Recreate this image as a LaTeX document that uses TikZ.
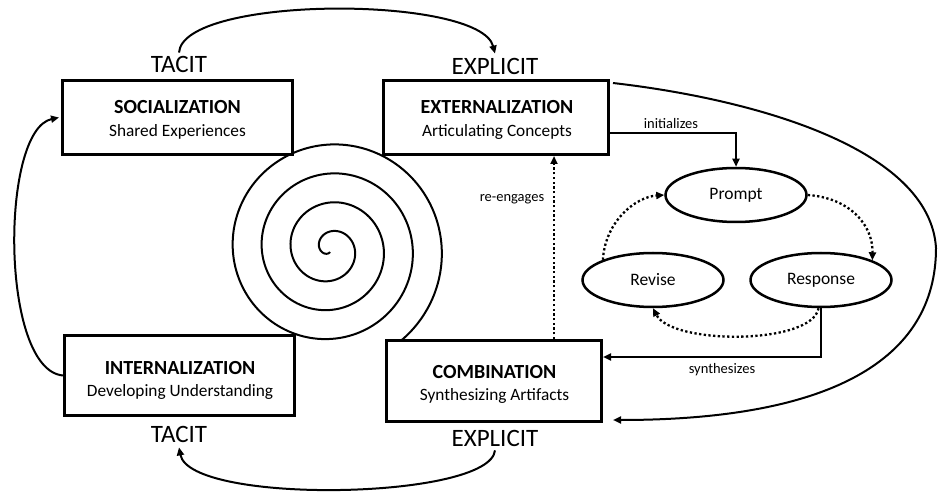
\documentclass[tikz,border=0pt]{standalone}
\usepackage{fontspec}
\setmainfont{Carlito}
\usetikzlibrary{arrows.meta,shapes.geometric}
\begin{document}
\begin{tikzpicture}[x=1pt,y=-1pt,
  kbox/.style={draw, line width=3pt, fill=white, inner sep=0pt},
  ttl/.style={font=\fontsize{20}{24}\selectfont\bfseries, anchor=base, inner sep=0pt},
  subt/.style={font=\fontsize{17.3}{20}\selectfont, anchor=base, inner sep=0pt},
  bigl/.style={font=\fontsize{25}{30}\selectfont, anchor=base, inner sep=0pt},
  smalll/.style={font=\fontsize{14.5}{17}\selectfont, anchor=base, inner sep=0pt},
  ell/.style={draw, ellipse, line width=2.5pt, minimum width=141pt, minimum height=54pt, inner sep=0pt, font=\fontsize{17.5}{20}\selectfont},
  conn/.style={line width=2pt},
  arr/.style={-{Triangle[length=8pt,width=7pt]}},
  dotline/.style={line width=2.3pt, dash pattern=on 2.3pt off 2.4pt},
]
\useasboundingbox (0,0) rectangle (939,494);
\fill[white] (0,0) rectangle (939,494);

% spiral
\draw[line width=2pt] plot[domain=90:1500, samples=500, smooth]
  ({330+(3+0.0805556*(\x-90))*cos(\x)}, {249+(3+0.0805556*(\x-90))*sin(\x)});

% boxes
\node[kbox, minimum width=230pt, minimum height=74pt] (soc) at (177.5,117.5) {};
\node[kbox, minimum width=225pt, minimum height=74pt] (ext) at (496,117.5) {};
\node[kbox, minimum width=230pt, minimum height=80pt] (int) at (179.5,375.5) {};
\node[kbox, minimum width=215pt, minimum height=81pt] (comb) at (494,381) {};

\node[ttl] (soct) at (177.5,114) {SOCIALIZATION};
\node[subt] (socs) at (177.5,137) {Shared Experiences};
\node[ttl] (extt) at (497,114) {EXTERNALIZATION};
\node[subt] (exts) at (497,137) {Articulating Concepts};
\node[ttl] (intt) at (180,374) {INTERNALIZATION};
\node[subt] (ints) at (180,396) {Developing Understanding};
\node[ttl] (combt) at (494.5,378) {COMBINATION};
\node[subt] (combs) at (494.5,400.5) {Synthesizing Artifacts};

% big labels
\node[bigl] (tacit1) at (179,73) {TACIT};
\node[bigl] (expl1) at (495,75) {EXPLICIT};
\node[bigl] (tacit2) at (179,442) {TACIT};
\node[bigl] (expl2) at (495,446) {EXPLICIT};

% ellipses
\node[ell] (prompt) at (736,195) {Prompt};
\node[ell] (revise) at (653,280) {Revise};
\node[ell] (response) at (821,280) {Response};

% small labels
\node[smalll] (lini) at (671,129) {initializes};
\node[smalll] (lsyn) at (722,373) {synthesizes};
\node[smalll] (lre) at (512,202) {re-engages};

% outer curves
\draw[conn,arr] ([yshift=4pt]tacit1.north) .. controls (183,-5) and (480,-5) .. ([yshift=5pt]expl1.north);
\draw[conn,arr] ([yshift=-4pt]expl2.south) .. controls (490,500) and (190,505) .. ([yshift=-5pt]tacit2.south);
\draw[conn,arr] (int.west) .. controls (0,370) and (0,130) .. ([xshift=-2pt]soc.west);
\draw[conn,arr] ([xshift=3pt,yshift=-4pt]ext.north east) .. controls (760,100) and (930,150) .. (936,248)
  .. controls (936,360) and (830,420) .. ([xshift=10pt,yshift=3pt]comb.south east);

% inner connectors
\draw[conn,arr] ([yshift=-15.5pt]ext.east) -| (prompt.north);
\draw[conn,arr] (response.south) |- ([yshift=24pt]comb.east);
\draw[dotline,arr] ([xshift=60pt]comb.north) -- ([xshift=60pt]comb.north |- ext.south);

% cycle
\draw[dotline,arr] (revise.158) .. controls (605,222) and (635,197) .. (prompt.west);
\draw[dotline,arr] (prompt.east) .. controls (850,198) and (873,225) .. (response.21);
\draw[dotline,arr] (response.265) .. controls (812,345) and (672,345) .. (revise.south);
\end{tikzpicture}
\end{document}
